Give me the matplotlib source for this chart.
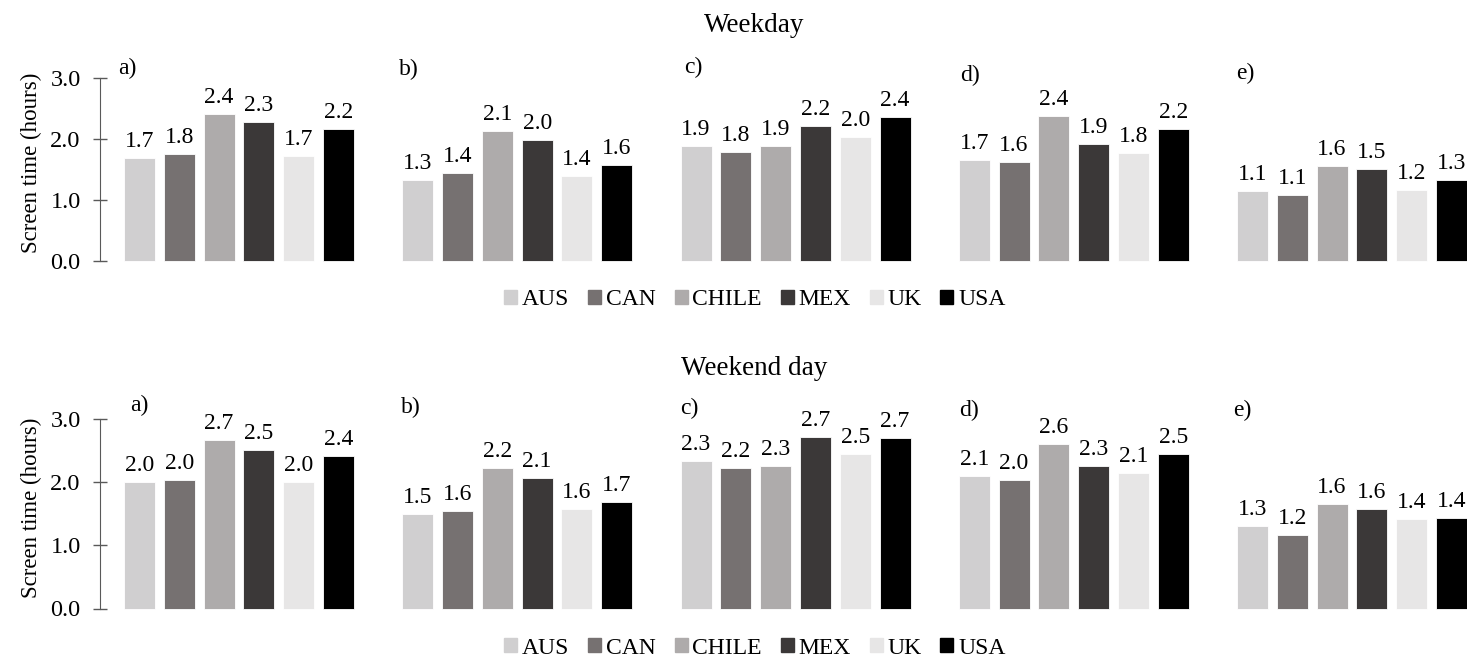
import numpy as np
import matplotlib.pyplot as plt

plt.rcParams['font.family'] = ['Liberation Serif', 'DejaVu Serif']

countries = ['AUS', 'CAN', 'CHILE', 'MEX', 'UK', 'USA']
colors = ['#d0cfd0', '#767171', '#aeabab', '#3b3838', '#e7e6e6', '#000000']
panels = ['a)', 'b)', 'c)', 'd)', 'e)']

# weekday screen time per panel (hours)
weekday = [
    [1.68, 1.75, 2.40, 2.27, 1.72, 2.16],
    [1.33, 1.44, 2.13, 1.98, 1.39, 1.57],
    [1.88, 1.78, 1.88, 2.21, 2.03, 2.36],
    [1.66, 1.62, 2.37, 1.91, 1.76, 2.16],
    [1.14, 1.08, 1.56, 1.50, 1.16, 1.33],
]
# weekend day screen time per panel (hours)
weekend = [
    [2.00, 2.03, 2.67, 2.51, 2.00, 2.41],
    [1.50, 1.55, 2.23, 2.06, 1.58, 1.68],
    [2.33, 2.23, 2.26, 2.72, 2.45, 2.70],
    [2.10, 2.04, 2.61, 2.26, 2.14, 2.45],
    [1.30, 1.17, 1.65, 1.58, 1.42, 1.44],
]

W, H = 1467, 659
fig = plt.figure(figsize=(W / 100, H / 100), dpi=100)

step = 39.8          # px between bar centres
bw = 31.0            # bar width in px
first_left = 124     # left edge of first bar, panel a
pstep = 278.25       # px between panels
x_left, x_right = -1.0 + 0.01, 5.6


def draw_row(data, y0, y3, title, title_y, leg_y, lab_pos):
    # y0 = pixel row for 0, y3 = pixel row for 3.0
    ppu = (y0 - y3) / 3.0
    ytop = 3.3
    for k, vals in enumerate(data):
        cx0 = first_left + k * pstep + bw / 2
        left = cx0 + x_left * step
        width = (x_right - x_left) * step
        bottom_px = y0 + 0.1 * ppu
        height = (ytop + 0.1) * ppu
        ax = fig.add_axes([left / W, 1 - bottom_px / H, width / W, height / H])
        ax.bar(np.arange(6), vals, width=bw / step, color=colors,
               edgecolor='white', linewidth=0.6)
        for i, v in enumerate(vals):
            ax.text(i, v + 11 / ppu, f'{v:.1f}', ha='center', va='baseline',
                    fontsize=17)
        ax.set_xlim(x_left, x_right)
        ax.set_ylim(-0.1, ytop)
        ax.set_xticks([])
        for s in ['top', 'right', 'bottom']:
            ax.spines[s].set_visible(False)
        if k == 0:
            ax.spines['left'].set_bounds(0, 3)
            ax.spines['left'].set_color('#595959')
            ax.set_yticks([0, 1, 2, 3])
            ax.set_yticklabels(['0.0', '1.0', '2.0', '3.0'], fontsize=17.5)
            ax.tick_params(axis='y', direction='inout', length=10, width=1,
                           color='#595959', pad=9)
            ax.set_ylabel('Screen time (hours)', fontsize=16.5, labelpad=6)
        else:
            ax.spines['left'].set_visible(False)
            ax.set_yticks([])
        ax.patch.set_alpha(0)
        lx, ly = lab_pos[k]
        fig.text(lx / W, 1 - ly / H, panels[k], fontsize=17,
                 ha='left', va='center')
    fig.text(754 / W, 1 - title_y / H, title, fontsize=19.5, ha='center', va='baseline')
    handles = [plt.Rectangle((0, 0), 1, 1, color=c) for c in colors]
    fig.legend(handles, countries, loc='center', bbox_to_anchor=(755 / W, 1 - leg_y / H),
               ncol=6, frameon=False, fontsize=17, handlelength=0.55, handleheight=0.55,
               handletextpad=0.2, columnspacing=0.8, borderaxespad=0, borderpad=0)


draw_row(weekday, 261, 77.7, 'Weekday', 32, 300,
         [(118, 68), (399, 69), (684, 67), (960, 75), (1236, 73)])
draw_row(weekend, 608.5, 419, 'Weekend day', 375, 648,
         [(130, 405), (401, 407), (680, 408), (959, 410), (1233, 410)])

fig.savefig('out.png', dpi=100)
